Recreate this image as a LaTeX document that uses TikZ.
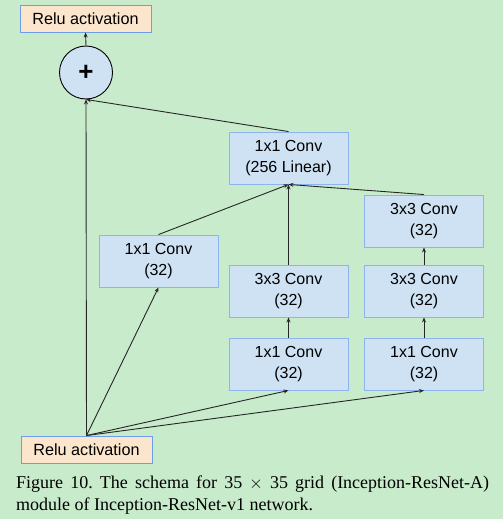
\documentclass[tikz,border=0pt]{standalone}
\usepackage{fontspec}
\setmainfont{Liberation Serif}
\newfontfamily\boxfont{Liberation Sans}
\usetikzlibrary{arrows.meta}
\definecolor{bg}{HTML}{C8EBCB}
\definecolor{convfill}{HTML}{CFE2F3}
\definecolor{convedge}{HTML}{8DB3F0}
\definecolor{relufill}{HTML}{FCE5CD}
\definecolor{reluedge}{HTML}{6D9EEB}
\tikzset{
  conv/.style={draw=convedge, fill=convfill, line width=0.9pt, minimum width=119pt, minimum height=52pt, inner sep=0pt, align=center, font=\boxfont\fontsize{16}{21}\selectfont},
  relu/.style={draw=reluedge, fill=relufill, line width=0.9pt, minimum width=131pt, minimum height=27pt, inner sep=0pt, font=\boxfont\fontsize{16.2}{20}\selectfont},
  sumnode/.style={circle, draw=black, fill=convfill, line width=0.9pt, minimum size=53pt, inner sep=0pt},
  arr/.style={draw=black!85, line width=0.9pt, -{Stealth[length=5pt,width=4pt]}},
  plain/.style={draw=black!85, line width=0.9pt}
}
\begin{document}
\begin{tikzpicture}[x=1pt,y=-1pt]
\fill[bg] (0,0) rectangle (503,519);
\useasboundingbox (0,0) rectangle (503,519);
\node[relu] (rtop) at (85.5,18.5) {Relu activation};
\node[relu] (rbot) at (86.5,449.5) {Relu activation};
\node[sumnode] (sum) at (86,72.5) {\boxfont\fontsize{26}{26}\selectfont\bfseries +};
\node[conv] (lin) at (288.5,158) {1x1 Conv\\(256 Linear)};
\node[conv] (a1) at (158.5,261) {1x1 Conv\\(32)};
\node[conv] (b3) at (288.5,291) {3x3 Conv\\(32)};
\node[conv] (b1) at (288.5,364) {1x1 Conv\\(32)};
\node[conv] (c3b) at (424,221) {3x3 Conv\\(32)};
\node[conv] (c3a) at (424,291) {3x3 Conv\\(32)};
\node[conv] (c1) at (424,364) {1x1 Conv\\(32)};
\draw[arr] (sum.north) -- (rtop.south);
\draw[arr] (rbot.north) -- (sum.south);
\draw[arr] (lin.north) -- (sum.south);
\draw[arr] (rbot.north) -- (a1.south);
\draw[arr] (rbot.north) -- (b1.south);
\draw[arr] (rbot.north) -- (c1.south);
\draw[arr] (b1.north) -- (b3.south);
\draw[arr] (c1.north) -- (c3a.south);
\draw[arr] (c3a.north) -- (c3b.south);
\draw[arr] (a1.north) -- (lin.south);
\draw[arr] (b3.north) -- (lin.south);
\draw[arr] (c3b.north) -- (lin.south);
\node[anchor=north west, inner sep=0pt, text width=473pt, align=justify, font=\fontsize{18}{22}\selectfont\frenchspacing] (cap) at (16,476)
  {Figure 10. The schema for 35 $\times$ 35 grid (Inception-ResNet-A)\linebreak module of Inception-ResNet-v1 network.};
\end{tikzpicture}
\end{document}
